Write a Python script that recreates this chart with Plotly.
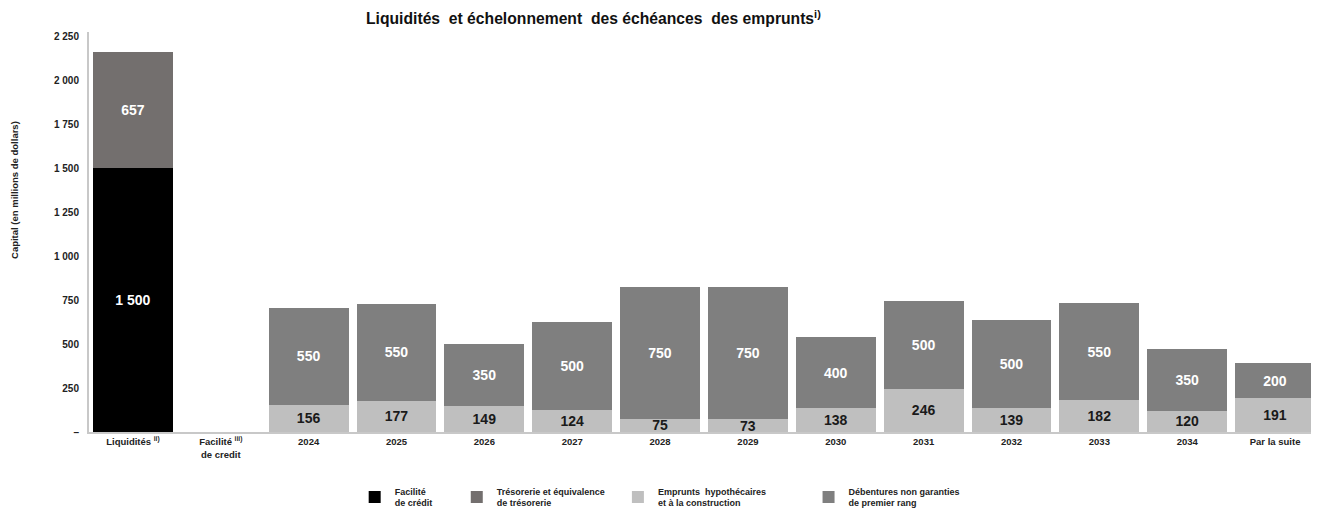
import plotly.graph_objects as go

categories = ["Liquidités", "Facilité de credit", "2024", "2025", "2026", "2027", "2028",
              "2029", "2030", "2031", "2032", "2033", "2034", "Par la suite"]
tick_labels = ["Liquidités <sup>ii)</sup>", "Facilité <sup>iii)</sup><br>de credit", "2024", "2025",
               "2026", "2027", "2028", "2029", "2030", "2031", "2032", "2033", "2034", "Par la suite"]

facilite = [1500, None, None, None, None, None, None, None, None, None, None, None, None, None]
tresorerie = [657, None, None, None, None, None, None, None, None, None, None, None, None, None]
emprunts = [None, None, 156, 177, 149, 124, 75, 73, 138, 246, 139, 182, 120, 191]
debentures = [None, None, 550, 550, 350, 500, 750, 750, 400, 500, 500, 550, 350, 200]

y_ticks = [0, 250, 500, 750, 1000, 1250, 1500, 1750, 2000, 2250]
y_tick_text = ["–", "250", "500", "750", "1 000", "1 250", "1 500", "1 750", "2 000", "2 250"]

TXT = "Liberation Sans, Arial, sans-serif"
LBL = dict(family=TXT, size=14, weight="bold")

series = [
    ("Facilité<br>de crédit", facilite, "#000000", "white", "legend"),
    ("Trésorerie et équivalence<br>de trésorerie", tresorerie, "#736F6E", "white", "legend2"),
    ("Emprunts  hypothécaires<br>et à la construction", emprunts, "#BFBFBF", "#1a1a1a", "legend3"),
    ("Débentures non garanties<br>de premier rang", debentures, "#7F7F7F", "white", "legend4"),
]

fig = go.Figure()
for name, vals, color, tcolor, lg in series:
    fig.add_trace(go.Bar(
        x=categories, y=vals, name=name, marker=dict(color=color, line=dict(width=0)),
        texttemplate="%{y:,.0f}", textposition="inside", insidetextanchor="middle",
        textangle=0, textfont=dict(color=tcolor, **LBL), legend=lg, cliponaxis=False,
    ))

# page body has an 8px margin: figure is sized/offset to compensate
leg_common = dict(orientation="v", yanchor="top", xanchor="left", bgcolor="rgba(0,0,0,0)",
                  font=dict(family=TXT, size=9, color="#222222", weight="bold"),
                  itemwidth=30, tracegroupgap=0)
fig.update_layout(
    width=1311, height=504,
    margin=dict(l=81, r=0, t=24, b=80, autoexpand=False),
    paper_bgcolor="white", plot_bgcolor="white",
    barmode="stack", bargap=0.09,
    separators=", ",
    uniformtext=dict(minsize=14, mode="show"),
    showlegend=True,
    legend=dict(x=0.216, y=-0.117, **leg_common),
    legend2=dict(x=0.299, y=-0.117, **leg_common),
    legend3=dict(x=0.430, y=-0.117, **leg_common),
    legend4=dict(x=0.585, y=-0.117, **leg_common),
    title=dict(text="Liquidités  et échelonnement  des échéances  des emprunts<sup>i)</sup>",
               x=358 / 1311, xanchor="left", y=0.9785, yanchor="middle",
               font=dict(family=TXT, size=15.7, color="#111111", weight="bold")),
    xaxis=dict(type="category", tickvals=categories, ticktext=tick_labels, automargin=False,
               showline=True, linecolor="#C8C8C8", linewidth=2, ticks="", showgrid=False,
               tickfont=dict(family=TXT, size=9.5, color="#222222", weight="bold")),
    yaxis=dict(range=[0, 2273], tickvals=y_ticks, ticktext=y_tick_text, automargin=False,
               showline=True, linecolor="#C8C8C8", linewidth=2, ticks="", showgrid=False,
               zeroline=False, ticklabelstandoff=6,
               tickfont=dict(family=TXT, size=10, color="#222222", weight="bold")),
    annotations=[dict(text="Capital (en millions de dollars)", textangle=-90,
                      xref="paper", yref="paper", x=-0.061, y=0.605, xanchor="center",
                      yanchor="middle", showarrow=False,
                      font=dict(family=TXT, size=9.5, color="#222222", weight="bold"))],
)

fig.write_html("out.html")
